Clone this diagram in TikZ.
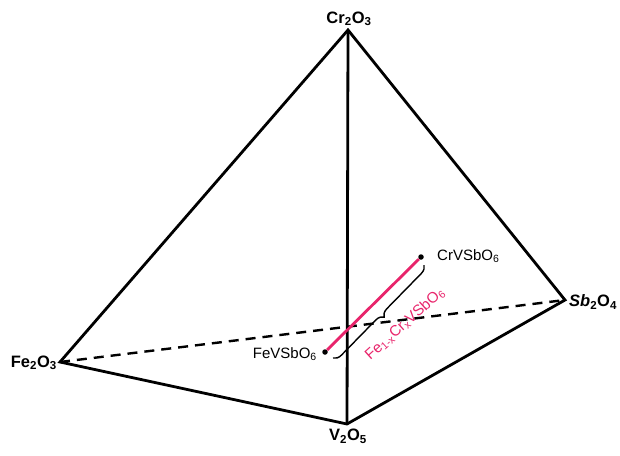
\documentclass[tikz,border=0pt]{standalone}
\usepackage{fontspec}
\setmainfont{Liberation Sans}
\usetikzlibrary{decorations.pathreplacing}
\definecolor{pinkline}{HTML}{E8246B}
\begin{document}
\begin{tikzpicture}[x=1pt,y=-1pt,
  edge/.style={line width=2.8pt,line join=miter},
  dashedge/.style={line width=2.4pt,dash pattern=on 10pt off 7pt},
  vlabel/.style={font=\fontsize{16.5}{18}\selectfont\bfseries,inner sep=1pt},
  plabel/.style={font=\fontsize{15}{17}\selectfont,inner sep=1pt},
  dot/.style={circle,fill=black,inner sep=0pt,minimum size=5.5pt}]
\useasboundingbox (0,0) rectangle (620,455);
\coordinate (cr) at (348,30);
\coordinate (fe) at (60,362);
\coordinate (sb) at (565,300);
\coordinate (v) at (347,424);
\node[vlabel,anchor=south] (lcr) at (349,27) {Cr\textsubscript{2}O\textsubscript{3}};
\node[vlabel,anchor=east] (lfe) at (58,363) {Fe\textsubscript{2}O\textsubscript{3}};
\node[vlabel,anchor=west] (lsb) at (568,302) {\textit{Sb}\textsubscript{2}O\textsubscript{4}};
\node[vlabel,anchor=north] (lv) at (348,428) {V\textsubscript{2}O\textsubscript{5}};
\draw[dashedge] (fe) -- (sb);
\draw[edge] (fe) -- (cr) -- (sb) -- (v) -- cycle;
\draw[edge] (cr) -- (v);
\node[dot] (pfe) at (325,352) {};
\node[dot] (pcr) at (421,257) {};
\node[plabel,anchor=east] (lfev) at (318,354) {FeVSbO\textsubscript{6}};
\node[plabel,anchor=west] (lcrv) at (436,256) {CrVSbO\textsubscript{6}};
\draw[pinkline,line width=2.8pt] (pfe) -- (pcr);
\coordinate (b1) at (333,358);
\coordinate (b2) at (424,265);
\draw[line width=1.4pt,decorate,decoration={brace,mirror,amplitude=8pt}] (b1) -- (b2);
\node[plabel,text=pinkline,rotate=42] (lsol) at (405,324) {Fe\textsubscript{1-x}Cr\textsubscript{x}VSbO\textsubscript{6}};
\end{tikzpicture}
\end{document}
